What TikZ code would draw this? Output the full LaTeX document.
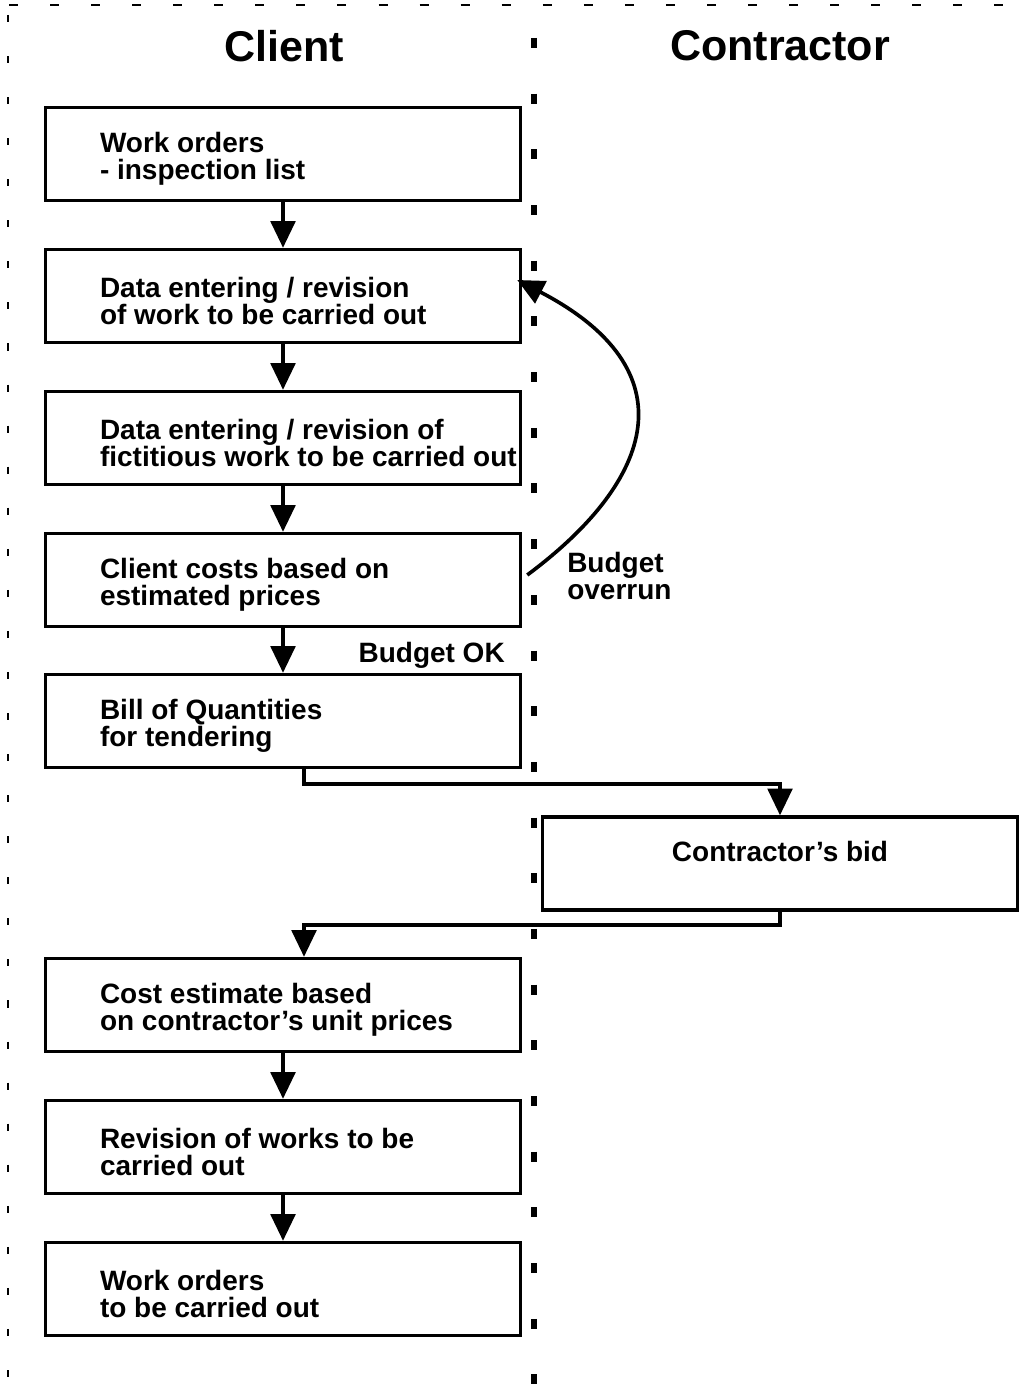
\documentclass[tikz,border=0pt]{standalone}
\usepackage{fontspec}
\setmainfont{Liberation Sans}
\usetikzlibrary{arrows.meta,positioning,calc}
\tikzset{
  stepbox/.style={draw,line width=2.4pt,minimum width=11.875cm,minimum height=2.325cm,inner sep=0pt},
  boxtext/.style={anchor=west,align=left,inner sep=0pt,font=\fontsize{19.9}{19.2}\selectfont\bfseries},
  lane/.style={font=\fontsize{30.6}{36}\selectfont\bfseries},
  flow/.style={line width=2.6pt,-{Triangle[length=19pt,width=17.5pt]}},
}

\begin{document}
\begin{tikzpicture}[x=0.025cm,y=-0.025cm]
\useasboundingbox (0,0) rectangle (1028,1385);
% frame and lane separator
\draw[line width=1.4pt,dash pattern=on 6.4pt off 22.8pt] (9,5) -- (1028,5);
\draw[line width=1.4pt,dash pattern=on 5pt off 24.2pt] (8,15) -- (8,1385);
\draw[line width=3.6pt,dash pattern=on 7.1pt off 32.5pt] (534,38) -- (534,1385);
\node[lane] (client) at (284,46) {Client};
\node[lane] (contractor) at (780,46) {Contractor};
% client steps
\node[stepbox] (b1) at (283,154) {};
\node[stepbox] (b2) at (283,296) {};
\node[stepbox] (b3) at (283,438) {};
\node[stepbox] (b4) at (283,580) {};
\node[stepbox] (b5) at (283,721) {};
\node[stepbox] (bid) at (780,863.5) {};
\node[stepbox] (b6) at (283,1005) {};
\node[stepbox] (b7) at (283,1147) {};
\node[stepbox] (b8) at (283,1289) {};
\node[boxtext] (t1) at ($(b1.west)+(56,5)$) {Work orders\\- inspection list};
\node[boxtext] (t2) at ($(b2.west)+(56,5)$) {Data entering / revision\\of work to be carried out};
\node[boxtext] (t3) at ($(b3.west)+(56,5)$) {Data entering / revision of\\fictitious work to be carried out};
\node[boxtext] (t4) at ($(b4.west)+(56,5)$) {Client costs based on\\estimated prices};
\node[boxtext] (t5) at ($(b5.west)+(56,5)$) {Bill of Quantities\\for tendering};
\node[boxtext,anchor=center] (tbid) at ($(bid.center)+(0,-12)$) {Contractor's bid};
\node[boxtext] (t6) at ($(b6.west)+(56,5)$) {Cost estimate based\\on contractor's unit prices};
\node[boxtext] (t7) at ($(b7.west)+(56,5)$) {Revision of works to be\\carried out};
\node[boxtext] (t8) at ($(b8.west)+(56,5)$) {Work orders\\to be carried out};
% arrows
\foreach \a/\b in {b1/b2,b2/b3,b3/b4,b4/b5,b6/b7,b7/b8}
  \draw[flow] (\a) -- (\b);
\draw[flow] ($(b4.east)+(5,-5)$) .. controls (655,480) and (690,370) .. ($(b2.east)+(-5,-16)$);
\node[boxtext] (over) at (567,576) {Budget\\overrun};
\node[boxtext,anchor=east] (ok) at (505,655) {Budget OK};
\coordinate (k1) at (304,784);
\coordinate (k2) at (304,925);
\draw[flow] (b5.south -| k1) -- (k1) -| (bid.north);
\draw[flow] (bid.south) |- (k2) -- (b6.north -| k2);
\end{tikzpicture}
\end{document}
